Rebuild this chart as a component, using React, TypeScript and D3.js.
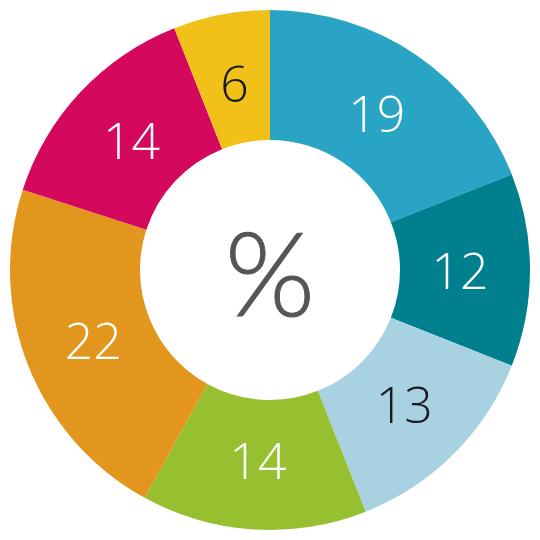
import React from "react";
import * as d3 from "d3";

const categories = ["A", "B", "C", "D", "E", "F", "G"];
const values = [19, 12, 13, 14, 22, 14, 6];
const colors = ["#2aa4c5", "#00808f", "#a8d1e1", "#97c031", "#e2961d", "#d4095e", "#f1c11a"];
const textColors = ["#ffffff", "#ffffff", "#1a1a1a", "#ffffff", "#ffffff", "#ffffff", "#1a1a1a"];
const centerLabel = "%";

export default function App() {
  const W = 540, H = 540;
  const cx = 270, cy = 270;
  const outer = 260, inner = 130;
  const pie = d3.pie<number>().sort(null).value((d) => d);
  const arcs = pie(values);
  const arc = d3.arc<d3.PieArcDatum<number>>().innerRadius(inner).outerRadius(outer);
  const labelArc = d3.arc<d3.PieArcDatum<number>>().innerRadius(190).outerRadius(190);
  return (
    <svg width={W} height={H} style={{ position: "absolute", left: 0, top: 0 }}>
      <rect width={W} height={H} fill="#ffffff" />
      <g transform={`translate(${cx},${cy})`}>
        {arcs.map((a, i) => (
          <path key={categories[i]} d={arc(a) || ""} fill={colors[i]} />
        ))}
        {arcs.map((a, i) => {
          const [x, y] = labelArc.centroid(a);
          return (
            <text
              key={"t" + categories[i]}
              x={x}
              y={y}
              textAnchor="middle"
              dominantBaseline="central"
              fontFamily="'Open Sans', sans-serif"
              fontWeight={300}
              fontSize={50}
              fill={textColors[i]}
            >
              {values[i]}
            </text>
          );
        })}
        <text
          x={0}
          y={1}
          textAnchor="middle"
          dominantBaseline="central"
          fontFamily="Lato, sans-serif"
          fontWeight={300}
          fontSize={116}
          fill="#555555"
          stroke="#555555"
          strokeWidth={1}
        >
          {centerLabel}
        </text>
      </g>
    </svg>
  );
}
